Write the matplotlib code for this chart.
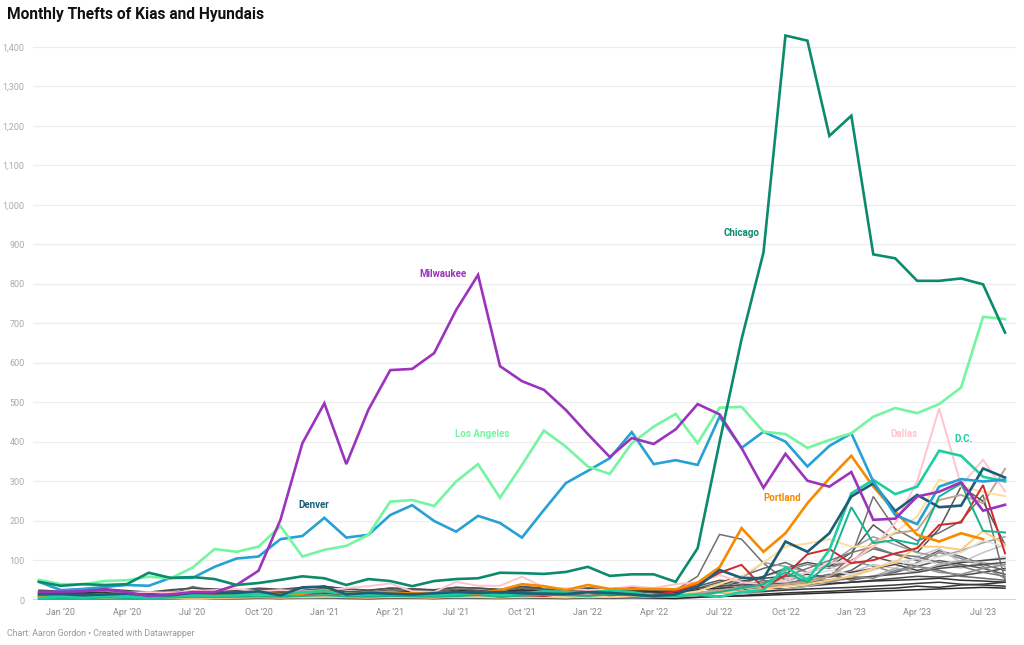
import numpy as np
import matplotlib.pyplot as plt

plt.rcParams['font.family'] = ['Roboto', 'DejaVu Sans']

# months Dec 2019 .. Aug 2023 (45 points)
months = ["Dec '19", "Jan '20", "Feb '20", "Mar '20", "Apr '20", "May '20", "Jun '20", "Jul '20", "Aug '20",
          "Sep '20", "Oct '20", "Nov '20", "Dec '20", "Jan '21", "Feb '21", "Mar '21", "Apr '21", "May '21",
          "Jun '21", "Jul '21", "Aug '21", "Sep '21", "Oct '21", "Nov '21", "Dec '21", "Jan '22", "Feb '22",
          "Mar '22", "Apr '22", "May '22", "Jun '22", "Jul '22", "Aug '22", "Sep '22", "Oct '22", "Nov '22",
          "Dec '22", "Jan '23", "Feb '23", "Mar '23", "Apr '23", "May '23", "Jun '23", "Jul '23", "Aug '23"]
tick_idx = [1, 4, 7, 10, 13, 16, 19, 22, 25, 28, 31, 34, 37, 40, 43]
tick_labels = ["Jan \u201920", "Apr \u201920", "Jul \u201920", "Oct \u201920", "Jan \u201921", "Apr \u201921",
               "Jul \u201921", "Oct \u201921", "Jan \u201922", "Apr \u201922", "Jul \u201922", "Oct \u201922",
               "Jan \u201923", "Apr \u201923", "Jul \u201923"]

chicago = [46, 36, 40, 38, 40, 69, 56, 58, 53, 38, 43, 51, 60, 55, 38, 53, 48,
           35, 48, 53, 55, 69, 68, 66, 71, 84, 61, 65, 65, 46, 131,
           400, 660, 880, 1429, 1416, 1175, 1226, 875, 865, 808, 808, 814, 799, 677]
milwaukee = [20, 21, 22, 27, 20, 10, 14, 20, 20, 38, 74, 203, 397, 498, 344, 481, 582,
             585, 625, 734, 823, 592, 554, 532, 481, 420, 362, 410, 395, 432, 496,
             470, 385, 284, 370, 302, 287, 324, 203, 206, 262, 274, 298, 226, 241]
los_angeles = [51, 40, 40, 48, 50, 59, 55, 82, 129, 122, 135, 187, 110, 127, 137, 165, 249,
               253, 238, 300, 344, 259, 342, 429, 388, 338, 319, 397, 439, 471, 397,
               487, 489, 426, 420, 385, 405, 422, 464, 486, 473, 496, 538, 717, 711]
blue_city = [46, 25, 28, 33, 38, 36, 56, 56, 84, 105, 110, 154, 162, 208, 158, 165, 215,
             240, 200, 173, 213, 195, 158, 228, 296, 327, 359, 425, 344, 354, 342,
             464, 385, 426, 401, 338, 390, 422, 300, 215, 192, 287, 306, 300, 305]
denver = [14, 15, 12, 14, 16, 12, 12, 18, 17, 18, 22, 12, 32, 34, 14, 18, 16,
          14, 17, 20, 18, 20, 17, 16, 15, 20, 18, 14, 10, 14, 34,
          76, 56, 55, 148, 122, 169, 262, 295, 225, 266, 235, 239, 333, 310]
portland = [10, 12, 10, 14, 12, 10, 15, 14, 12, 15, 18, 15, 16, 25, 15, 18, 20,
            16, 18, 20, 16, 25, 40, 35, 25, 38, 28, 28, 28, 27, 44,
            83, 182, 122, 169, 245, 308, 365, 287, 224, 165, 148, 169, 154, None]
dc = [5, 8, 6, 10, 8, 6, 10, 12, 10, 12, 15, 14, 20, 22, 16, 14, 15,
      14, 12, 15, 18, 12, 16, 22, 20, 18, 24, 20, 10, 12, 14,
      8, 20, 25, 83, 51, 127, 270, 304, 268, 287, 378, 365, 312, 300]
teal2 = [4, 5, 4, 6, 5, 4, 6, 8, 7, 8, 9, 8, 10, 12, 9, 8, 10,
         9, 8, 10, 12, 9, 11, 13, 12, 10, 14, 12, 8, 10, 12,
         20, 30, 40, 70, 45, 94, 235, 144, 152, 141, 262, 295, 175, 171]
red = [8, 10, 8, 10, 12, 8, 10, 14, 12, 15, 22, 12, 15, 18, 20, 16, 12,
       14, 12, 10, 15, 8, 12, 10, 16, 18, 12, 14, 12, 22, 40,
       69, 89, 30, 63, 116, 129, 93, 101, 118, 131, 190, 196, 291, 118]
dallas = [10, 12, 10, 15, 18, 20, 18, 22, 25, 28, 22, 25, 22, 25, 30, 35, 42,
          22, 20, 46, 36, 36, 59, 32, 30, 25, 28, 35, 30, 40, 45,
          63, 45, 40, 50, 70, 94, 97, 135, 195, 300, 485, 290, 355, 275]
light_orange = [6, 7, 6, 8, 7, 6, 8, 9, 8, 9, 10, 9, 11, 12, 10, 9, 11,
                10, 9, 12, 11, 10, 12, 11, 10, 12, 11, 13, 12, 14, 22,
                40, 60, 95, 135, 143, 154, 135, 135, 173, 211, 305, 287, 274, 263]
pale_orange = [4, 5, 4, 5, 5, 4, 5, 6, 5, 6, 7, 6, 7, 8, 7, 6, 7,
               7, 6, 8, 7, 6, 8, 7, 6, 8, 7, 9, 8, 9, 12,
               18, 22, 28, 35, 40, 50, 60, 80, 95, 135, 135, 127, 175, 140]
tan = [3, 4, 3, 5, 4, 3, 4, 6, 5, 6, 7, 6, 8, 9, 7, 6, 8,
       7, 6, 9, 8, 7, 9, 8, 7, 9, 8, 10, 9, 12, 18,
       25, 30, 35, 40, 45, 60, 94, 148, 169, 177, 253, 266, 245, 332]

greys = [
    ('#4a4a4a', [5, 6, 4, 8, 6, 5, 7, 9, 8, 6, 10, 8, 9, 12, 7, 8, 10, 9, 8, 11, 10, 9, 12, 10, 9, 11, 10, 12, 9, 8, 14, 20, 25, 30, 28, 35, 40, 45, 50, 55, 60, 58, 62, 70, 80]),
    ('#666666', [12, 10, 14, 12, 15, 13, 16, 20, 18, 22, 25, 20, 24, 30, 22, 20, 26, 24, 22, 28, 25, 24, 30, 27, 25, 28, 26, 30, 24, 22, 30, 45, 60, 80, 95, 70, 85, 100, 130, 115, 100, 125, 110, 90, 75]),
    ('#333333', [2, 3, 2, 4, 3, 2, 3, 5, 4, 3, 5, 4, 6, 5, 4, 3, 5, 6, 4, 5, 6, 5, 7, 6, 5, 6, 5, 7, 6, 5, 8, 10, 12, 15, 18, 20, 22, 25, 28, 30, 35, 32, 38, 40, 45]),
    ('#5a5a5a', [20, 18, 22, 25, 20, 18, 24, 30, 26, 22, 28, 25, 30, 35, 28, 24, 30, 28, 25, 32, 30, 26, 34, 28, 24, 30, 28, 32, 26, 22, 35, 50, 45, 40, 55, 50, 60, 75, 110, 95, 85, 100, 90, 80, 65]),
    ('#8a8a8a', [8, 7, 9, 10, 8, 7, 9, 12, 10, 9, 12, 11, 13, 15, 10, 9, 12, 11, 10, 14, 12, 11, 14, 12, 10, 13, 12, 14, 11, 10, 16, 28, 40, 60, 75, 90, 80, 100, 85, 70, 95, 120, 105, 85, 55]),
    ('#c4c4c4', [3, 4, 3, 5, 4, 3, 4, 6, 5, 4, 6, 5, 7, 8, 6, 5, 7, 6, 5, 8, 7, 6, 9, 8, 6, 8, 7, 9, 7, 6, 10, 18, 22, 30, 40, 55, 50, 70, 90, 80, 110, 130, 95, 120, 140]),
    ('#d6d6d6', [6, 5, 7, 6, 8, 6, 7, 9, 8, 7, 9, 8, 10, 11, 9, 8, 10, 9, 8, 11, 10, 9, 12, 10, 9, 11, 10, 12, 10, 9, 14, 25, 30, 40, 55, 70, 85, 60, 75, 95, 105, 90, 80, 100, 110]),
    ('#444444', [15, 14, 16, 18, 15, 13, 17, 20, 18, 16, 20, 18, 22, 24, 18, 16, 20, 19, 17, 22, 20, 18, 24, 20, 18, 22, 20, 24, 19, 17, 24, 40, 48, 55, 60, 65, 58, 70, 80, 90, 75, 85, 95, 100, 105]),
    ('#6a6a6a', [4, 5, 4, 6, 5, 4, 5, 7, 6, 5, 7, 6, 8, 9, 7, 6, 8, 7, 6, 9, 8, 7, 10, 9, 7, 9, 8, 10, 8, 7, 12, 20, 35, 50, 40, 55, 65, 50, 60, 70, 85, 75, 60, 55, 50]),
    ('#707070', [10, 12, 10, 14, 12, 10, 14, 34, 22, 18, 16, 15, 20, 25, 18, 15, 20, 18, 16, 22, 20, 18, 30, 24, 20, 22, 20, 28, 22, 25, 60, 166, 154, 93, 50, 40, 60, 110, 262, 180, 150, 170, 200, 266, 50]),
    ('#555555', [14, 12, 15, 14, 16, 13, 15, 18, 16, 15, 18, 16, 20, 22, 17, 15, 19, 17, 16, 20, 18, 16, 22, 19, 17, 20, 18, 22, 18, 16, 25, 35, 45, 60, 80, 95, 85, 120, 190, 150, 120, 180, 287, 250, 140]),
    ('#9e9e9e', [7, 8, 6, 9, 7, 6, 8, 10, 9, 8, 11, 9, 12, 13, 10, 9, 11, 10, 9, 12, 11, 10, 13, 11, 10, 12, 11, 13, 10, 9, 15, 30, 55, 95, 85, 70, 90, 130, 160, 140, 120, 110, 125, 145, 160]),
    ('#333333', [18, 16, 19, 20, 17, 15, 19, 22, 20, 18, 22, 20, 24, 26, 20, 18, 22, 21, 19, 24, 22, 20, 26, 22, 20, 24, 22, 26, 21, 19, 26, 30, 32, 35, 38, 40, 42, 45, 48, 50, 52, 55, 50, 48, 45]),
    ('#7a7a7a', [9, 10, 8, 11, 9, 8, 10, 12, 11, 10, 13, 11, 14, 15, 12, 11, 13, 12, 11, 14, 13, 12, 15, 13, 12, 14, 13, 15, 12, 11, 18, 24, 30, 45, 60, 80, 100, 120, 135, 115, 110, 95, 85, 70, 60]),
    ('#b0b0b0', [2, 2, 3, 2, 3, 2, 3, 4, 3, 2, 4, 3, 4, 5, 4, 3, 4, 4, 3, 5, 4, 3, 5, 4, 3, 5, 4, 5, 4, 3, 6, 10, 15, 20, 28, 35, 45, 55, 60, 80, 70, 90, 100, 95, 85]),
    ('#dddddd', [5, 4, 6, 5, 6, 4, 5, 7, 6, 5, 7, 6, 8, 9, 7, 6, 8, 7, 6, 9, 8, 7, 10, 8, 7, 9, 8, 10, 8, 7, 12, 20, 28, 38, 45, 60, 75, 65, 80, 100, 90, 110, 120, 150, 135]),
    ('#505050', [25, 22, 26, 28, 24, 20, 26, 30, 28, 24, 30, 27, 32, 34, 28, 25, 30, 28, 26, 32, 30, 27, 34, 30, 26, 30, 28, 32, 27, 24, 30, 35, 38, 40, 42, 45, 50, 55, 60, 65, 70, 80, 85, 90, 95]),
    ('#3a3a3a', [11, 10, 12, 11, 13, 10, 12, 14, 13, 11, 14, 12, 15, 16, 13, 11, 14, 13, 12, 15, 14, 12, 16, 14, 12, 15, 13, 16, 13, 11, 15, 18, 20, 22, 25, 28, 30, 32, 35, 38, 42, 45, 40, 38, 35]),
    ('#8c8c8c', [6, 7, 5, 8, 6, 5, 7, 9, 8, 7, 9, 8, 10, 11, 9, 8, 10, 9, 8, 11, 10, 9, 12, 10, 9, 11, 10, 12, 9, 8, 13, 22, 35, 28, 40, 50, 45, 60, 55, 75, 85, 70, 65, 80, 90]),
    ('#2b2b2b', [3, 4, 3, 4, 4, 3, 4, 5, 4, 4, 5, 4, 6, 6, 5, 4, 5, 5, 4, 6, 5, 5, 6, 5, 4, 6, 5, 6, 5, 4, 7, 9, 10, 12, 14, 16, 18, 20, 22, 24, 26, 28, 30, 32, 30]),
]

x = np.arange(len(months))

fig = plt.figure(figsize=(10.24, 6.45), dpi=100)
ax = fig.add_axes([33 / 1024, 45 / 645, 983 / 1024, 570 / 645])

for col, vals in greys:
    ax.plot(x, vals, color=col, lw=1.1, solid_joinstyle='miter')

minor = [(tan, '#c2a48e'), (pale_orange, '#ffc97a'), (light_orange, '#ffdc9c'), (dallas, '#ffc4cd'),
         (red, '#d2282c'), (teal2, '#13b48e')]
for vals, col in minor:
    ax.plot(x, vals, color=col, lw=1.4, solid_joinstyle='miter')

major = [(portland, '#f78b00'), (dc, '#1dcfa0'), (denver, '#1c5d77'), (blue_city, '#27a0d5'),
         (los_angeles, '#74f5a0'), (milwaukee, '#9b33bd'), (chicago, '#0c8a6c')]
for vals, col in major:
    ax.plot(x, np.array(vals, dtype=float), color=col, lw=1.9, solid_joinstyle='miter')

labels = [('Chicago', 32.0, 929, '#0c8a6c'), ('Milwaukee', 18.4, 825, '#9b33bd'),
          ('Los Angeles', 20.2, 420, '#74f5a0'), ('Denver', 12.5, 240, '#1c5d77'),
          ('Portland', 33.85, 258, '#f78b00'), ('Dallas', 39.4, 420, '#ffc4cd'),
          ('D.C.', 42.1, 408, '#1dcfa0')]
for txt, lx, ly, col in labels:
    ax.text(lx, ly, txt, color=col, fontsize=7, fontweight='bold', ha='center', va='center')

ax.set_xlim(-0.27, 44.5)
ax.set_ylim(0, 1443)
ax.set_yticks(range(0, 1401, 100))
ax.set_yticklabels(['{:,}'.format(v) for v in range(0, 1401, 100)])
ax.set_xticks(tick_idx)
ax.set_xticklabels(tick_labels)
ax.grid(axis='y', color='#ededed', lw=0.9)
ax.set_axisbelow(True)
for s in ax.spines.values():
    s.set_visible(False)
ax.axhline(0, color='#333333', lw=1.0, zorder=5)
ax.tick_params(axis='y', length=0, labelsize=6.5, labelcolor='#aaaaaa', pad=6)
ax.tick_params(axis='x', length=0, labelsize=6.5, labelcolor='#888888', pad=6)

fig.text(7 / 1024, 1 - 15 / 645, 'Monthly Thefts of Kias and Hyundais', fontsize=11.2,
         fontweight='bold', color='#111111', va='center', ha='left')
fig.text(7 / 1024, 1 - 633 / 645, 'Chart: Aaron Gordon \u2022 Created with Datawrapper', fontsize=6.3,
         color='#999999', va='center', ha='left')

fig.savefig('out.png', dpi=100)
